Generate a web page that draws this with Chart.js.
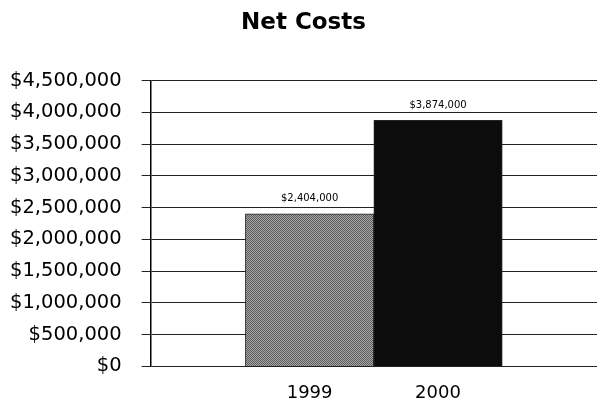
<!DOCTYPE html>
<html>
<head>
<meta charset="utf-8">
<title>Net Costs</title>
<script src="https://cdn.jsdelivr.net/npm/chart.js@4/dist/chart.umd.min.js"></script>
<style>
  html, body { margin: 0; padding: 0; background: #fff; }
  #wrap { width: 597px; height: 408px; }
</style>
</head>
<body>
<div id="wrap"><canvas id="chart" width="597" height="408"></canvas></div>
<script>
// Net costs per year
const categories = ['1999', '2000'];
const netCosts = [2404000, 3874000];
const yTicks = [0, 500000, 1000000, 1500000, 2000000, 2500000, 3000000, 3500000, 4000000, 4500000];

const FONT = "'DejaVu Sans', Verdana, sans-serif";
const money = v => '$' + Number(v).toLocaleString('en-US');
const Y_TICK_PAD = 20;

// Dithered grey fill for the first bar, solid near-black for the second
function ditherFill() {
  const c = document.createElement('canvas');
  c.width = 2; c.height = 2;
  const g = c.getContext('2d');
  g.fillStyle = '#a8a8a8'; g.fillRect(0, 0, 2, 2);
  g.fillStyle = '#5c5c5c'; g.fillRect(0, 0, 1, 1); g.fillRect(1, 1, 1, 1);
  return g.createPattern(c, 'repeat');
}
const barFills = [ditherFill(), '#0c0c0c'];

// Value labels printed above each bar
const valueLabels = {
  id: 'valueLabels',
  afterDatasetsDraw(chart) {
    const ctx = chart.ctx;
    const meta = chart.getDatasetMeta(0);
    ctx.save();
    ctx.font = '10px ' + FONT;
    ctx.fillStyle = '#000';
    ctx.textAlign = 'center';
    ctx.textBaseline = 'middle';
    meta.data.forEach((bar, i) => {
      ctx.fillText(money(netCosts[i]), bar.x, bar.y - 15);
    });
    ctx.restore();
  }
};

new Chart(document.getElementById('chart'), {
  type: 'bar',
  data: {
    datasets: [{
      data: netCosts.map((v, i) => ({ x: i, y: v })),
      backgroundColor: barFills,
      borderColor: '#222',
      borderWidth: 1,
      barPercentage: 1,
      categoryPercentage: 1
    }]
  },
  options: {
    responsive: false,
    devicePixelRatio: 1,
    animation: false,
    layout: { padding: { left: 10, right: 0, top: 0, bottom: -12 } },
    plugins: {
      legend: { display: false },
      tooltip: { enabled: false },
      title: {
        display: true,
        text: 'Net Costs',
        color: '#000',
        font: { family: FONT, size: 23, weight: 'bold' },
        padding: { top: 9, bottom: 44 }
      }
    },
    scales: {
      x: {
        type: 'linear',
        offset: false,
        bounds: 'data',
        min: -1.238,
        max: 2.238,
        afterBuildTicks: scale => {
          scale.ticks = categories.map((c, i) => ({ value: i }));
        },
        ticks: {
          autoSkip: false,
          maxRotation: 0,
          padding: 16,
          color: '#000',
          font: { family: FONT, size: 18 },
          callback: v => categories[v] ?? ''
        },
        grid: { display: false, drawTicks: false },
        border: { display: false }
      },
      y: {
        min: 0,
        max: 4500000,
        afterBuildTicks: scale => {
          scale.ticks = yTicks.map(v => ({ value: v }));
        },
        // the tick padding is counted on both sides of the labels; keep it only next to the axis
        afterFit: scale => { scale.width -= Y_TICK_PAD; },
        ticks: {
          color: '#000',
          padding: Y_TICK_PAD,
          font: { family: FONT, size: 19.5 },
          callback: v => money(v)
        },
        grid: {
          color: '#222',
          lineWidth: 1,
          tickLength: 9
        },
        border: { color: '#000', width: 1.5 }
      }
    }
  },
  plugins: [valueLabels]
});
</script>
</body>
</html>
